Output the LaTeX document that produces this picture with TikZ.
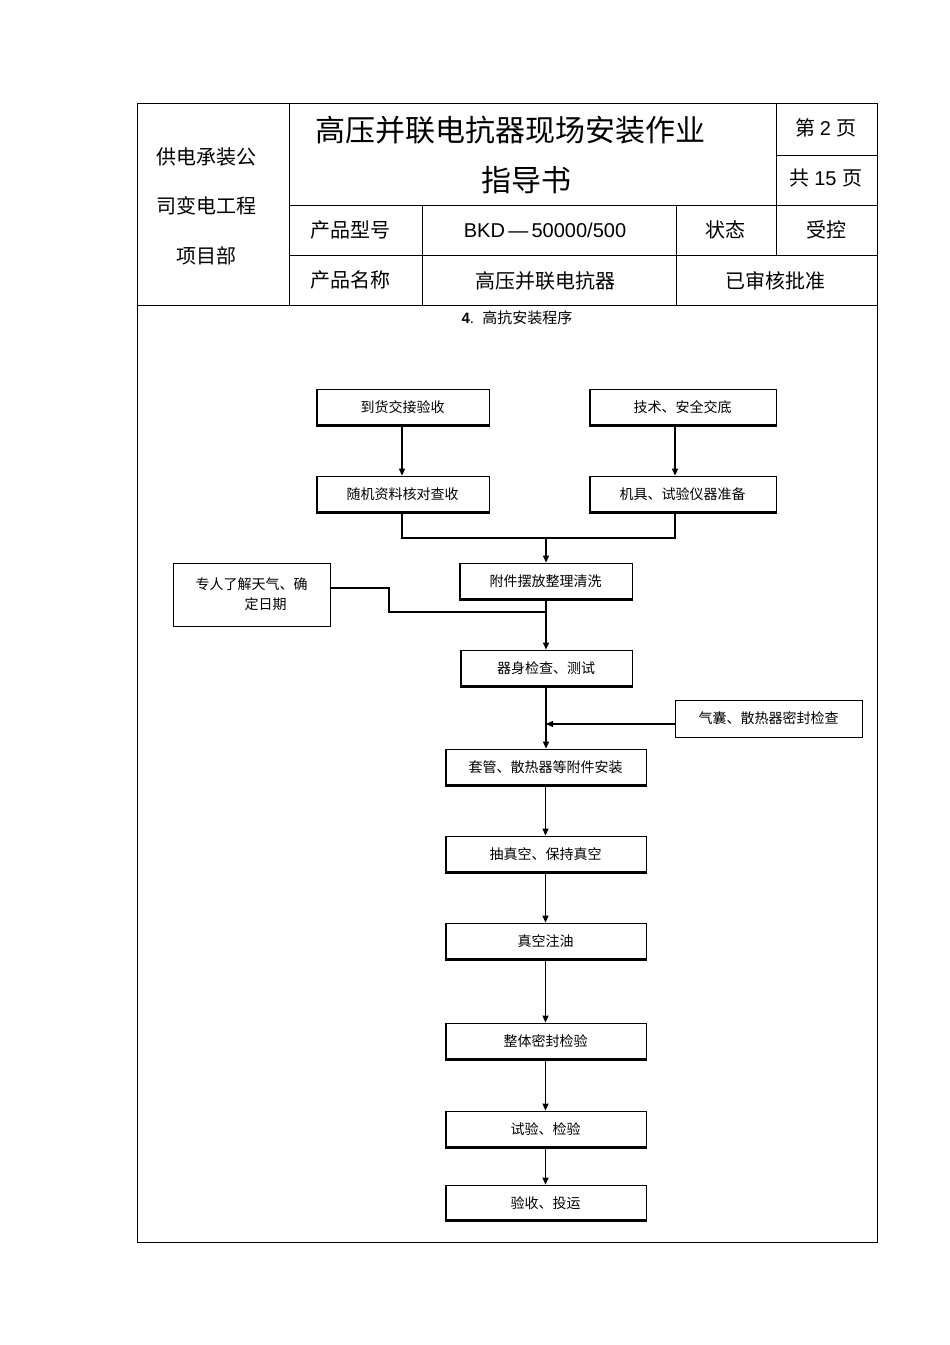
\documentclass[tikz,border=0pt]{standalone}
\usepackage{fontspec}
\setmainfont{Liberation Sans}
\newfontfamily\cjk{Noto Sans CJK SC}
\usetikzlibrary{arrows.meta}
\tikzset{
 cell/.style={font=\cjk\fontsize{20}{24}\selectfont, inner sep=0},
 bx/.style={draw, line width=0.8pt, inner sep=0, font=\cjk\fontsize{14}{20}\selectfont, align=center},
 ln/.style={line width=1.2pt},
 ar/.style={line width=1.2pt,-{Triangle[length=7pt,width=6pt]}}
}
\newcommand{\mkbox}[6]{\node[bx,minimum width={#4-#2},minimum height={#5-#3}] (#1) at ({(#2+#4)/2},{(#3+#5)/2}) {#6};
 \draw[line width=2pt] (#2+1,#3) -- (#2+1,#5-1) -- (#4,#5-1);}
\begin{document}
\begin{tikzpicture}[x=1pt,y=-1pt]
\useasboundingbox (0,0) rectangle (950,1345);
% table
\draw[line width=0.8pt] (137,103) rectangle (877,1242);
\draw[line width=0.8pt] (137,305) -- (877,305);
\draw[line width=0.8pt] (289,103) -- (289,305);
\draw[line width=0.8pt] (776,103) -- (776,255);
\draw[line width=0.8pt] (776,155) -- (877,155);
\draw[line width=0.8pt] (289,205) -- (877,205);
\draw[line width=0.8pt] (289,255) -- (877,255);
\draw[line width=0.8pt] (422,205) -- (422,305);
\draw[line width=0.8pt] (676,205) -- (676,305);
\node[cell] (l1) at (206,157) {\cjk 供电承装公};
\node[cell] (l2) at (206,206) {\cjk 司变电工程};
\node[cell] (l3) at (206,256) {\cjk 项目部};
\node[cell,font=\cjk\fontsize{30}{36}\selectfont] (t1) at (510,130) {高压并联电抗器现场安装作业};
\node[cell,font=\cjk\fontsize{30}{36}\selectfont] (t2) at (526,180) {指导书};
\node[cell] (p1) at (826,128) {第 \rmfamily 2 \cjk 页};
\node[cell] (p2) at (826,178) {共 \rmfamily 15 \cjk 页};
\node[cell] (c1) at (350,230) {产品型号};
\node[cell,font=\rmfamily\fontsize{20}{24}\selectfont] (c2) at (545,230) {BKD\,—\,50000/500};
\node[cell] (c3) at (725,230) {状态};
\node[cell] (c4) at (826,230) {受控};
\node[cell] (c5) at (350,280) {产品名称};
\node[cell] (c6) at (545,281) {高压并联电抗器};
\node[cell] (c7) at (775,281) {已审核批准};
\node[font=\fontsize{15}{18}\selectfont] (sec) at (517,318) {\textbf{4}.\ \ \cjk 高抗安装程序};
% boxes
\mkbox{A}{316}{389}{489}{426}{到货交接验收}
\mkbox{B}{589}{389}{776}{426}{技术、安全交底}
\mkbox{C}{316}{476}{489}{513}{随机资料核对查收}
\mkbox{D}{589}{476}{776}{513}{机具、试验仪器准备}
\mkbox{E}{459}{563}{632}{600}{附件摆放整理清洗}
\node[draw,line width=0.8pt,minimum width=157,minimum height=63,inner sep=0,font=\cjk\fontsize{14}{20}\selectfont,align=center] (F) at (251.5,594.5) {专人了解天气、确\\\hspace*{2em}定日期};
\mkbox{G}{460}{650}{632}{687}{器身检查、测试}
\node[draw,line width=0.8pt,minimum width=187,minimum height=37,inner sep=0,font=\cjk\fontsize{14}{20}\selectfont] (H) at (768.5,718.5) {气囊、散热器密封检查};
\mkbox{I}{445}{749}{646}{786}{套管、散热器等附件安装}
\mkbox{J}{445}{836}{646}{873}{抽真空、保持真空}
\mkbox{K}{445}{923}{646}{960}{真空注油}
\mkbox{L}{445}{1023}{646}{1060}{整体密封检验}
\mkbox{M}{445}{1111}{646}{1148}{试验、检验}
\mkbox{N}{445}{1185}{646}{1221}{验收、投运}
% connectors
\draw[ar] (A.south -| 402,0) -- (C.north -| 402,0);
\draw[ar] (B.south -| 675,0) -- (D.north -| 675,0);
\coordinate (j1) at (546,538);
\draw[ln] (C.south -| 402,0) -- (402,538) -- (675,538) -- (D.south -| 675,0);
\draw[ar] (j1) -- (E.north -| j1);
\coordinate (j2) at (546,612);
\draw[ln] (F.east |- 0,588) -- (389,588) -- (389,612) -- (j2);
\draw[ar] (E.south -| j1) -- (G.north -| j1);
\draw[ar] (G.south -| j1) -- (I.north -| j1);
\coordinate (j3) at (546,724);
\draw[ar] (H.west |- j3) -- (j3);
\draw[ar] (I) -- (J);
\draw[ar] (J) -- (K);
\draw[ar] (K) -- (L);
\draw[ar] (L) -- (M);
\draw[ar] (M) -- (N);
\end{tikzpicture}
\end{document}
